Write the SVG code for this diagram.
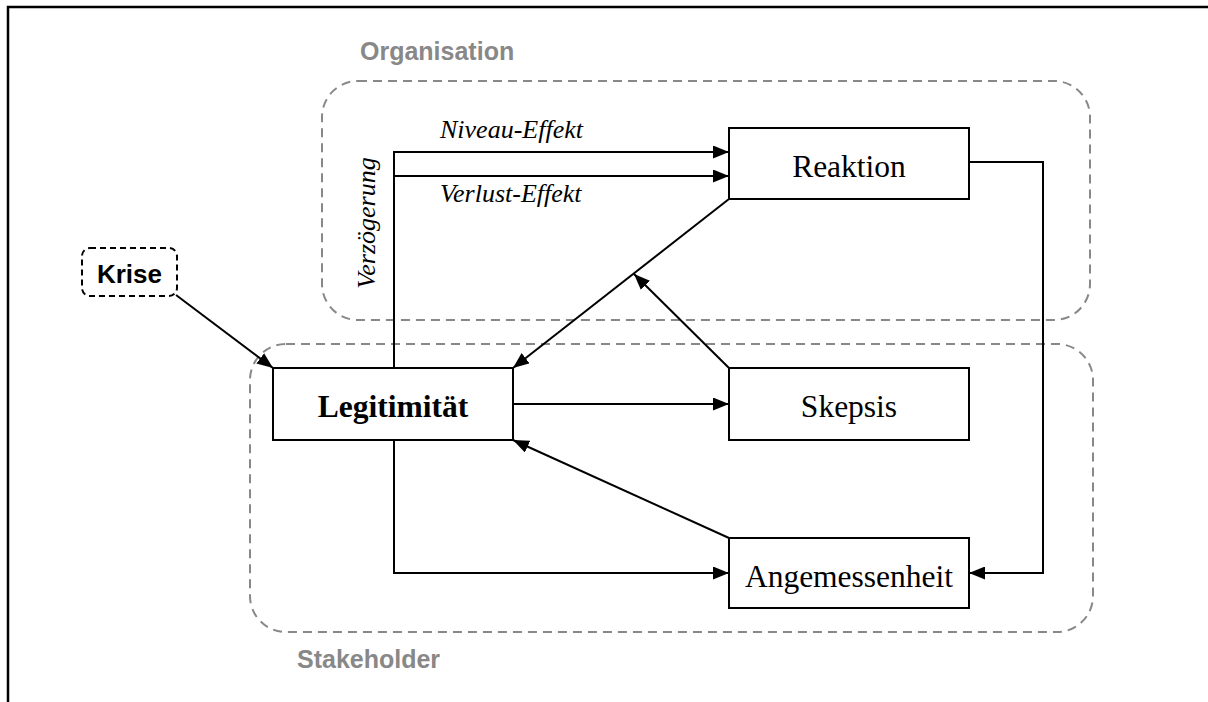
<svg xmlns="http://www.w3.org/2000/svg" width="1208" height="702" viewBox="0 0 1208 702">
<style>
.frame{fill:none;stroke:#000;stroke-width:2.5}
.group{fill:none;stroke:#888;stroke-width:2;stroke-dasharray:9,6}
.glabel{font-family:"Liberation Sans",Arial,sans-serif;font-weight:bold;font-size:25px;fill:#888}
.box{fill:#fff;stroke:#000;stroke-width:2}
.ntext{font-family:"Liberation Serif","Times New Roman",serif;font-size:31.5px;fill:#000;text-anchor:middle}
.elabel{font-family:"Liberation Serif","Times New Roman",serif;font-style:italic;font-size:26px;fill:#000}
.krise{fill:#fff;stroke:#000;stroke-width:2;stroke-dasharray:6,4}
.ktext{font-family:"Liberation Sans",Arial,sans-serif;font-weight:bold;font-size:26px;fill:#000;text-anchor:middle}
.conn path{fill:none;stroke:#000;stroke-width:2}
.arr{marker-end:url(#ah)}
</style>
<defs>
<marker id="ah" markerUnits="userSpaceOnUse" markerWidth="16" markerHeight="13" refX="16" refY="6.5" orient="auto">
<path d="M0,0 L16,6.5 L0,13 z" fill="#000"/>
</marker>
</defs>
<rect width="1208" height="702" fill="#fff"/>
<path class="frame" d="M8,702 L8,7 L1208,7"/>

<g id="org-group">
<rect class="group" x="322" y="81" width="768" height="239" rx="36" ry="36"/>
<text class="glabel" x="360" y="60">Organisation</text>
</g>
<g id="stake-group">
<rect class="group" x="250" y="344" width="843" height="288" rx="36" ry="36"/>
<text class="glabel" x="297" y="668">Stakeholder</text>
</g>

<g class="conn" id="connectors">
<path class="arr" d="M394,368 L394,152 L729,152"/>
<path class="arr" d="M394,176 L729,176"/>
<path class="arr" d="M729,199 L513,368"/>
<path class="arr" d="M729,368 L634,274"/>
<path class="arr" d="M513,404 L729,404"/>
<path class="arr" d="M729,538 L513,440"/>
<path class="arr" d="M394,440 L394,573 L729,573"/>
<path class="arr" d="M969,162 L1043,162 L1043,573 L969,573"/>
<path class="arr" d="M176,295 L273,368"/>
</g>
<g id="edge-labels">
<text class="elabel" x="440" y="138">Niveau-Effekt</text>
<text class="elabel" x="440" y="202">Verlust-Effekt</text>
<text class="elabel" transform="translate(375,223) rotate(-90)" text-anchor="middle">Verzögerung</text>
</g>

<g id="krise">
<rect class="krise" x="82" y="248" width="95" height="48" rx="8" ry="8"/>
<text class="ktext" x="129.5" y="283">Krise</text>
</g>
<g id="reaktion">
<rect class="box" x="729" y="128" width="240" height="71"/>
<text class="ntext" x="849" y="177">Reaktion</text>
</g>
<g id="legitimitaet">
<rect class="box" x="273" y="368" width="240" height="72"/>
<text class="ntext" x="393" y="417" font-weight="bold">Legitimität</text>
</g>
<g id="skepsis">
<rect class="box" x="729" y="368" width="240" height="72"/>
<text class="ntext" x="849" y="417">Skepsis</text>
</g>
<g id="angemessenheit">
<rect class="box" x="729" y="538" width="240" height="70"/>
<text class="ntext" x="849" y="587">Angemessenheit</text>
</g>
</svg>
